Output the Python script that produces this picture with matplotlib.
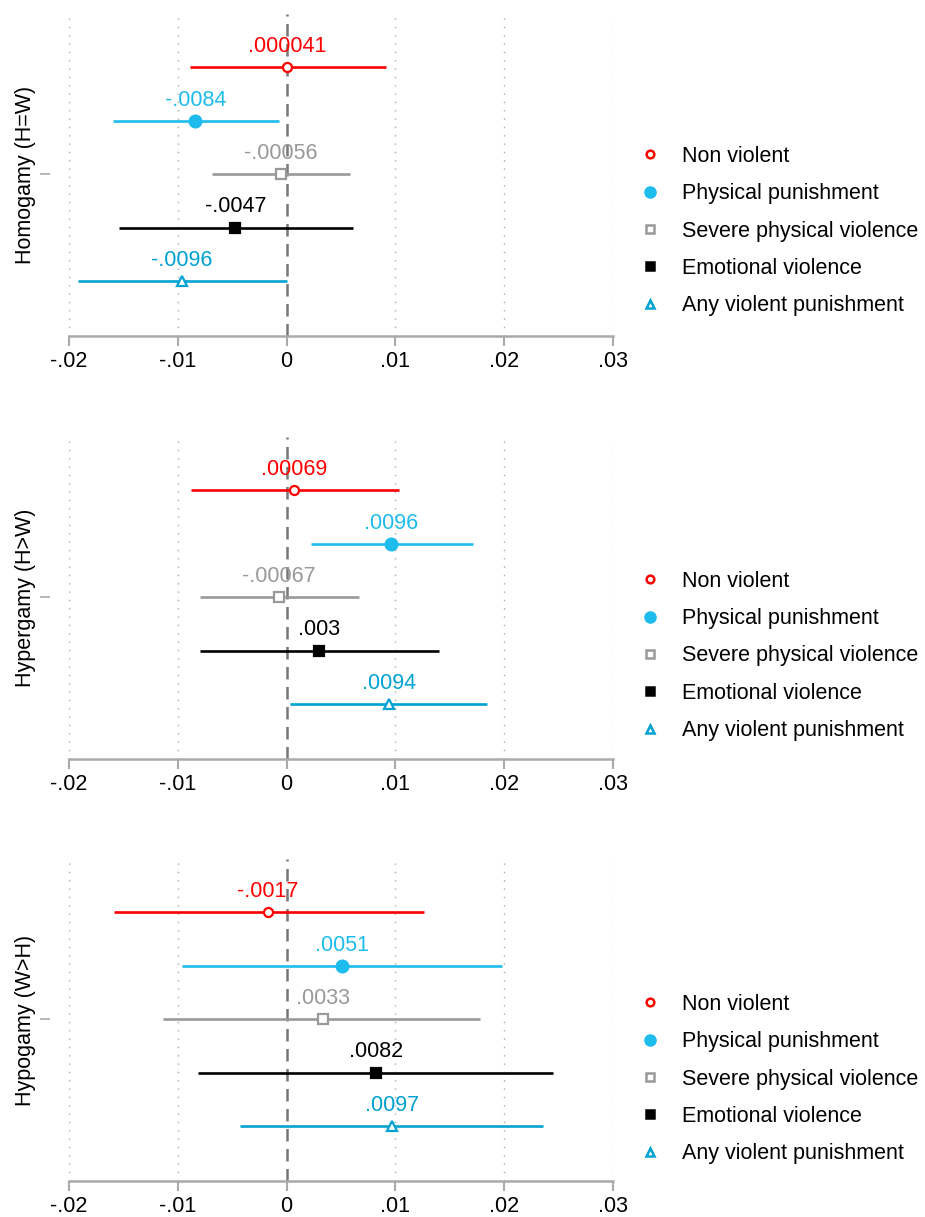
import numpy as np
import matplotlib
matplotlib.use('Agg')
import matplotlib.pyplot as plt
from matplotlib.lines import Line2D

plt.rcParams['font.family'] = ['Liberation Sans', 'DejaVu Sans']

# data
panels = ['Homogamy (H=W)', 'Hypergamy (H>W)', 'Hypogamy (W>H)']
series = ['Non violent', 'Physical punishment', 'Severe physical violence',
          'Emotional violence', 'Any violent punishment']

est = [[0.000041, -0.0084, -0.00056, -0.0047, -0.0096],
       [0.00069, 0.0096, -0.00067, 0.003, 0.0094],
       [-0.0017, 0.0051, 0.0033, 0.0082, 0.0097]]
lo = [[-0.0089, -0.0160, -0.0069, -0.0154, -0.0192],
      [-0.0088, 0.0022, -0.0080, -0.0080, 0.0003],
      [-0.0159, -0.0096, -0.0114, -0.0081, -0.0043]]
hi = [[0.0091, -0.0007, 0.0058, 0.0061, 0.0000],
      [0.0103, 0.0171, 0.0067, 0.0140, 0.0184],
      [0.0126, 0.0198, 0.0178, 0.0245, 0.0236]]

xticks = [-0.02, -0.01, 0, 0.01, 0.02, 0.03]
xticklabels = ['-.02', '-.01', '0', '.01', '.02', '.03']

colors = ['#ff0000', '#1ebbed', '#999999', '#000000', '#00a2d2']
markers = ['o', 'o', 's', 's', '^']
filled = [False, True, False, True, False]
msizes = [6.5, 8.5, 7, 7.5, 7.5]


def fmt(v):
    s = np.format_float_positional(v, precision=2, unique=True, fractional=False)
    return s.replace('0.', '.', 1) if s.lstrip('-').startswith('0.') else s


fig = plt.figure(figsize=(9.25, 12.17), dpi=100)
W, H = 925, 1217
tops = [14, 437, 859]
legend_y = [231, 656, 1079]

for p in range(3):
    ax = fig.add_axes([69 / W, 1 - (tops[p] + 322) / H, 544 / W, 322 / H])
    ypos = np.arange(1, 6)
    for k in range(5):
        c = colors[k]
        ax.plot([lo[p][k], hi[p][k]], [ypos[k], ypos[k]], color=c, lw=1.9,
                solid_capstyle='butt', zorder=3)
        ax.plot(est[p][k], ypos[k], marker=markers[k], ms=msizes[k],
                mec=c, mfc=c if filled[k] else 'white', mew=1.6, zorder=4)
        ax.annotate(fmt(est[p][k]), (est[p][k], ypos[k]), xytext=(0, 11),
                    textcoords='offset points', ha='center', va='baseline',
                    color=c, fontsize=15.5, zorder=5)

    for t in xticks:
        if t != 0:
            ax.axvline(t, color='#aaaaaa', lw=1, ls=(0, (1, 5)), zorder=1)
    ax.axvline(0, color='#777777', lw=1.8, ls=(0, (5, 3)), zorder=2)

    ax.set_xlim(-0.02, 0.03)
    ax.set_ylim(6.03, 0)
    ax.set_xticks(xticks)
    ax.set_xticklabels(xticklabels, fontsize=15.5)
    ax.set_yticks([3])
    ax.set_yticklabels([''])
    ax.set_ylabel(panels[p], fontsize=15.5, labelpad=0)
    ax.yaxis.set_label_coords(-33 / 544, 0.5)

    for s in ['top', 'right']:
        ax.spines[s].set_visible(False)
    ax.spines['left'].set_position(('outward', 13.7))
    ax.spines['left'].set_visible(False)
    ax.spines['bottom'].set_color('#aaaaaa')
    ax.spines['bottom'].set_linewidth(1.8)
    ax.tick_params(axis='x', colors='#aaaaaa', length=7, width=1.5,
                   labelcolor='black', pad=4)
    ax.tick_params(axis='y', colors='#aaaaaa', length=7.2, width=1.2)
    ax.patch.set_alpha(0)

    handles = [Line2D([], [], ls='none', marker=markers[k], ms=msizes[k] * 0.85,
                      mec=colors[k], mfc=colors[k] if filled[k] else 'white',
                      mew=1.8) for k in range(5)]
    fig.legend(handles, series, loc='center left',
               bbox_to_anchor=(639 / W, 1 - legend_y[p] / H),
               frameon=False, fontsize=15.5, handlelength=1.0,
               handletextpad=1.0, labelspacing=0.76, borderpad=0,
               borderaxespad=0)

fig.savefig('out.png', dpi=100)
